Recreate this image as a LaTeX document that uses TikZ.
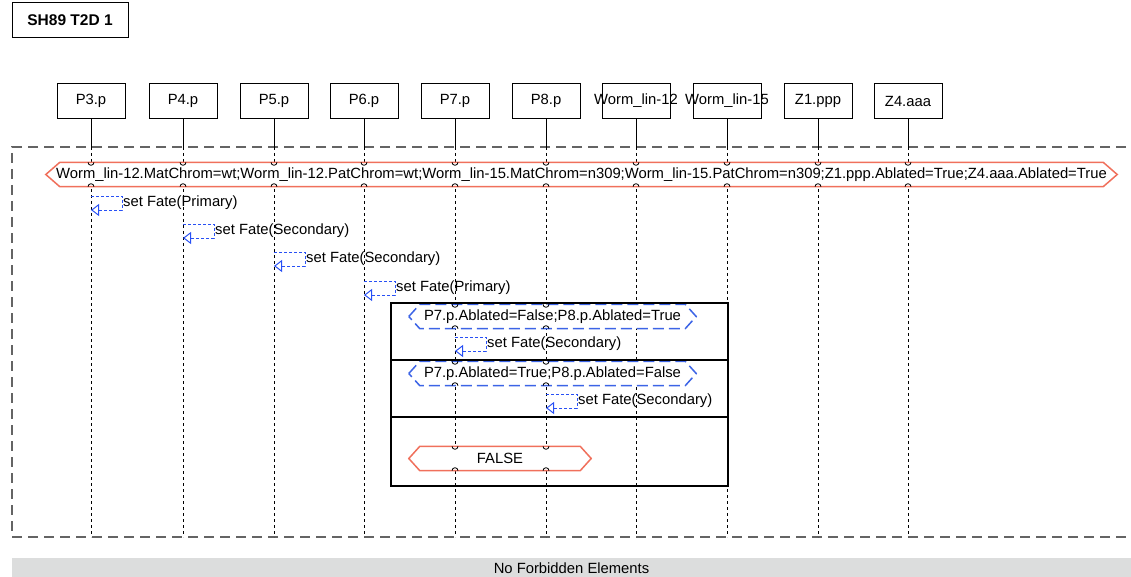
\documentclass[tikz,border=0pt]{standalone}
\usepackage{fontspec}
\setmainfont{Liberation Sans}
\usepackage{xcolor}
\definecolor{GUARDCOLOR}{RGB}{240,112,92}
\definecolor{ALTCOLOR}{RGB}{60,100,230}
\definecolor{FATECOLOR}{RGB}{40,80,245}
\definecolor{FRAMECOLOR}{RGB}{100,100,100}
\definecolor{STATUSCOLOR}{RGB}{220,221,221}
\usepackage{tikz}
\usetikzlibrary{arrows.meta,positioning}
\newcommand\diagFont{\fontsize{14.8}{17}\selectfont}
\tikzset{
  basic-style/.style = {
    rectangle, draw, line width=1pt,
    inner sep=1pt,
    font=\diagFont
  },
  title-style/.style = {
    basic-style,
    minimum width=116pt, minimum height=35pt,
    font=\fontsize{15.5}{17}\selectfont\bfseries
  },
  life-style/.style = {
    basic-style,
    minimum width=68pt, minimum height=35pt
  },
  life-solid-style/.style = {draw, line width=0.8pt},
  life-dash-style/.style = {draw, line width=0.8pt, dash pattern=on 3pt off 3pt},
  frame-style/.style = {
    draw=FRAMECOLOR, line width=1.6pt, dash pattern=on 10pt off 6pt,
    minimum width=1138pt, minimum height=390pt, inner sep=0pt
  },
  guard-box-style/.style = {minimum height=24pt, inner sep=0pt},
  guard-style/.style = {draw=#1, fill=white, line width=1.5pt},
  guard-red-style/.style = {guard-style=GUARDCOLOR},
  guard-blue-style/.style = {guard-style=ALTCOLOR, dash pattern=on 11pt off 5pt},
  guard-text-style/.style = {inner sep=0pt, font=\diagFont},
  cross-style/.style = {draw, line width=0.8pt},
  alt-style/.style = {draw, line width=2pt},
  fate-style/.style = {
    draw=FATECOLOR, line width=0.9pt, dash pattern=on 3pt off 2pt,
    -{Triangle[open, length=8pt, width=12pt, line width=1pt]}
  },
  fate-text-style/.style = {inner sep=1pt, font=\diagFont},
  status-style/.style = {
    fill=STATUSCOLOR, minimum width=1119pt, minimum height=21pt,
    inner sep=0pt, font=\diagFont
  }
}
\def\createLife name:#1 display:#2 at:#3;{
  \node [life-style] (#1) at (#3,101) {\makebox[0pt]{#2}};
  \coordinate (#1-top) at (#3,147);
  \coordinate (#1-end) at (#3,537);
  \draw [life-solid-style] (#1) -- (#1-top);
  \draw [life-dash-style] (#1-top) -- (#1-end);
}
\def\createGuard name:#1 display:#2 style:#3 at:#4 width:#5 tip:#6;{
  \node [guard-box-style, minimum width=#5] (#1) at (#4) {};
  \draw [#3] (#1.west) -- ([xshift=#6]#1.north west) -- ([xshift=-#6]#1.north east)
    -- (#1.east) -- ([xshift=-#6]#1.south east) -- ([xshift=#6]#1.south west) -- cycle;
  \node [guard-text-style] (#1-text) at (#1.center) {#2};
}
\def\createCross life:#1 on:#2;{
  \draw [cross-style] (#1-end |- #2.north) ++(-3pt,0) arc [start angle=180, end angle=360, radius=3pt];
  \draw [cross-style] (#1-end |- #2.south) ++(-3pt,0) arc [start angle=180, end angle=0, radius=3pt];
}
\def\createFate name:#1 life:#2 top:#3 display:#4;{
  \coordinate (#1-a) at (#2-end |- 0,#3);
  \coordinate (#1-m) at (#2-end |- 0,#3+7);
  \coordinate (#1-z) at (#2-end |- 0,#3+14);
  \draw [fate-style] (#1-a) -- ++(31,0) |- (#1-z);
  \node [fate-text-style, right=31pt of #1-m] (#1) {#4};
}

\begin{document}
\begin{tikzpicture}[x=1pt, y=-1pt]
  \useasboundingbox (0,0) rectangle (1131,577);

  \node [title-style] (title) at (70,20.5) {SH89 T2D 1};
  \node [frame-style] (frame) at (581,342) {};

  \foreach \name/\display/\x in {p3/P3.p/91, p4/P4.p/183, p5/P5.p/274, p6/P6.p/364,
      p7/P7.p/455, p8/P8.p/546, w12/Worm\_lin-12/636, w15/Worm\_lin-15/727,
      z1/Z1.ppp/818, z4/Z4.aaa/908}
    {\createLife name:{\name} display:{\display} at:{\x};}

  % initial condition
  \createGuard name:init display:{Worm\_lin-12.MatChrom=wt;Worm\_lin-12.PatChrom=wt;Worm\_lin-15.MatChrom=n309;Worm\_lin-15.PatChrom=n309;Z1.ppp.Ablated=True;Z4.aaa.Ablated=True}
    style:guard-red-style at:{581.5,174.5} width:1071pt tip:14pt;
  \foreach \life in {p3,p4,p5,p6,p7,p8,w12,w15,z1,z4}
    {\createCross life:{\life} on:init;}

  \createFate name:fate3 life:p3 top:196 display:{set Fate(Primary)};
  \createFate name:fate4 life:p4 top:224 display:{set Fate(Secondary)};
  \createFate name:fate5 life:p5 top:252 display:{set Fate(Secondary)};
  \createFate name:fate6 life:p6 top:281 display:{set Fate(Primary)};

  % alternatives
  \createGuard name:alt1 display:{P7.p.Ablated=False;P8.p.Ablated=True}
    style:guard-blue-style at:{552.5,316.5} width:287pt tip:11pt;
  \createFate name:fate7 life:p7 top:337 display:{set Fate(Secondary)};
  \createGuard name:alt2 display:{P7.p.Ablated=True;P8.p.Ablated=False}
    style:guard-blue-style at:{552.5,373.5} width:287pt tip:11pt;
  \createFate name:fate8 life:p8 top:394 display:{set Fate(Secondary)};
  \createGuard name:alt3 display:{FALSE}
    style:guard-red-style at:{500,458.5} width:182pt tip:11pt;
  \foreach \guard in {alt1,alt2,alt3}
    {\foreach \life in {p7,p8}
      {\createCross life:{\life} on:{\guard};}}

  \node [alt-style, minimum width=337pt, minimum height=183pt, inner sep=0pt] (alt) at (559.5,394.5) {};
  \draw [alt-style] (alt.west |- 0,360) -- (alt.east |- 0,360);
  \draw [alt-style] (alt.west |- 0,417) -- (alt.east |- 0,417);

  \node [status-style] (status) at (571.5,568) {No Forbidden Elements};
\end{tikzpicture}
\end{document}
